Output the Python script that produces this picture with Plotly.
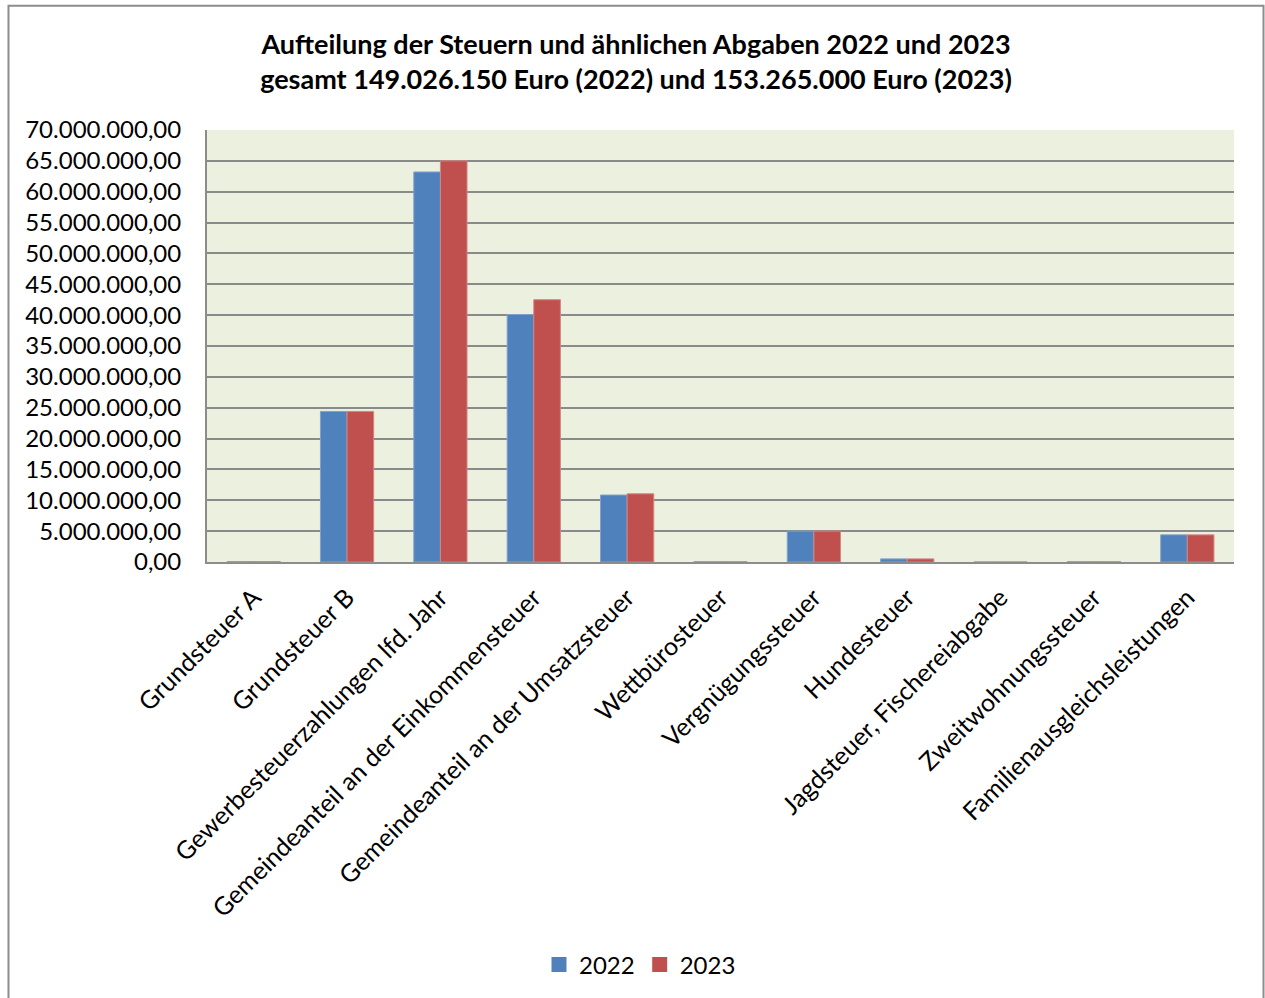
import plotly.graph_objects as go

categories = [
    "Grundsteuer A",
    "Grundsteuer B",
    "Gewerbesteuerzahlungen lfd. Jahr",
    "Gemeindeanteil an der Einkommensteuer",
    "Gemeindeanteil an der Umsatzsteuer",
    "Wettbürosteuer",
    "Vergnügungssteuer",
    "Hundesteuer",
    "Jagdsteuer, Fischereiabgabe",
    "Zweitwohnungssteuer",
    "Familienausgleichsleistungen",
]
values_2022 = [60000, 24400000, 63200000, 40100000, 10850000, 50000,
               5000000, 500000, 5000, 50000, 4400000]
values_2023 = [60000, 24400000, 65000000, 42500000, 11050000, 50000,
               5000000, 500000, 5000, 50000, 4400000]
y_ticks = list(range(0, 70000001, 5000000))

FONT = "Lato"
W, H = 1265, 998
L, R, T, B = 207, 31, 130, 435
pw, ph = W - L - R, H - T - B

series = [("2022", values_2022, "#4F81BD", "#7FA1CF"),
          ("2023", values_2023, "#C0504D", "#D48583")]

fig = go.Figure()
for name, vals, color, edge in series:
    fig.add_trace(go.Bar(
        name=name, x=categories, y=vals, showlegend=False, legendgroup=name,
        marker=dict(color=color, line=dict(color=edge, width=1)),
    ))
# legend entries with larger square swatches
for name, vals, color, edge in series:
    fig.add_trace(go.Scatter(
        name=name, x=[None], y=[None], mode="markers", legendgroup=name,
        marker=dict(symbol="square", size=15, color=color),
    ))


def px_x(x):
    return (x - L) / pw


def px_y(y):
    return (H - B - y) / ph


# outer chart frame
fig.add_shape(type="rect", xref="paper", yref="paper",
              x0=px_x(8.5), x1=px_x(1263.5), y0=px_y(1010), y1=px_y(5.5),
              line=dict(color="#8C8C8C", width=2), fillcolor="rgba(0,0,0,0)",
              layer="below")

fig.update_layout(
    width=W, height=H,
    margin=dict(l=L, r=R, t=T, b=B),
    paper_bgcolor="white",
    plot_bgcolor="#EBF1DE",
    separators=",.",
    barmode="group",
    bargap=0.43,
    bargroupgap=0,
    font=dict(family=FONT, color="black", size=23),
    title=dict(
        text="<b>Aufteilung der Steuern und ähnlichen Abgaben 2022 und 2023<br>"
             "gesamt 149.026.150 Euro (2022) und 153.265.000 Euro (2023)</b>",
        x=636 / W, xanchor="center", y=1 - 54 / H, yanchor="top",
        font=dict(family=FONT, size=27, color="black"),
    ),
    xaxis=dict(
        tickangle=-45, showgrid=False, ticks="",
        showline=True, linecolor="#8C8C8C", linewidth=2,
        tickfont=dict(family=FONT, size=25), ticklabelstandoff=9,
    ),
    yaxis=dict(
        range=[0, 70000000], tickvals=y_ticks, tickformat=",.2f",
        showgrid=True, gridcolor="#8A8A8A", gridwidth=2,
        showline=True, linecolor="#8C8C8C", linewidth=2, mirror=False,
        zeroline=False, ticks="", ticklabelstandoff=19,
        tickfont=dict(family=FONT, size=24),
    ),
    legend=dict(
        orientation="h", x=px_x(640), xanchor="center",
        y=px_y(965), yanchor="middle",
        font=dict(family=FONT, size=24),
        traceorder="normal", itemsizing="trace",
    ),
)

fig.write_html("out.html")
